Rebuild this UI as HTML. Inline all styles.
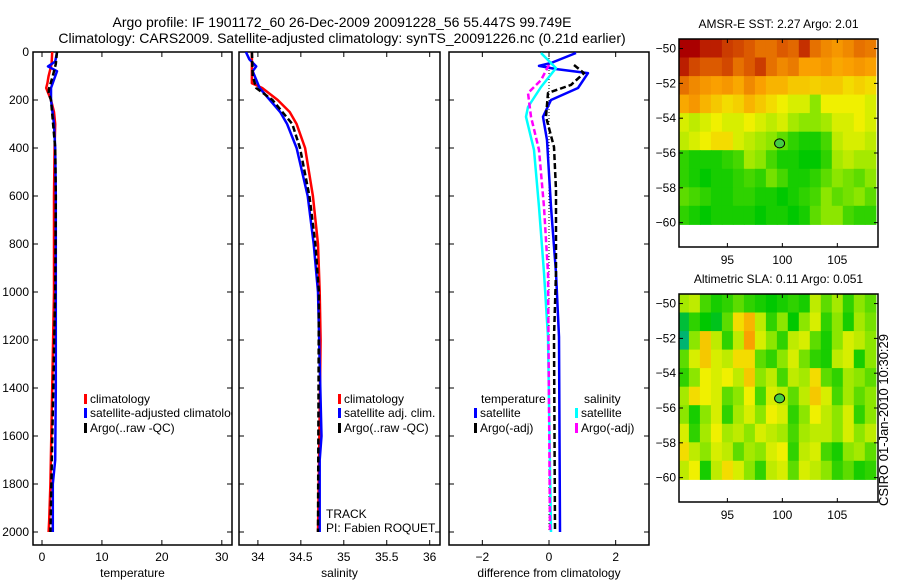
<!DOCTYPE html>
<html><head><meta charset="utf-8"><style>
html,body{margin:0;padding:0;background:#fff;}
svg{display:block;font-family:"Liberation Sans",sans-serif;}
</style></head><body>
<svg id="fig" width="900" height="580" viewBox="0 0 900 580">
<text x="342" y="27" font-size="14" text-anchor="middle">Argo profile: IF 1901172_60 26-Dec-2009 20091228_56 55.447S 99.749E</text>
<text x="342" y="43" font-size="14" text-anchor="middle">Climatology: CARS2009. Satellite-adjusted climatology: synTS_20091226.nc (0.21d earlier)</text>
<text x="888" y="420" font-size="13" text-anchor="middle" transform="rotate(-90 888 420)">CSIRO 01-Jan-2010 10:30:29</text>
<g id="plots"></g>
</svg>
<script>
// ---------- profile data ----------
const depthTicks = [0,200,400,600,800,1000,1200,1400,1600,1800,2000];
const tempTicks = [0,10,20,30];
const salTicks = [34,34.5,35,35.5,36];
const diffTicks = [-2,0,2];

const tClimDepth = [0,50,100,130,150,200,250,300,400,600,800,1000,1400,1800,1950,2000];
const tClimVal   = [1.7,1.6,1.1,0.9,0.7,1.5,2.0,2.2,2.1,2.0,2.0,2.0,1.7,1.4,1.2,1.1];
const tSatDepth = [0,40,60,80,150,200,300,400,600,1000,1400,1700,1800,2000];
const tSatVal   = [2.5,2.2,1.0,2.5,1.5,1.5,2.0,2.2,2.3,2.3,2.3,2.2,1.8,1.8];
const tArgoDepth = [0,50,100,150,170,200,400,600,1000,1500,2000];
const tArgoVal   = [2.5,2.3,1.8,1.2,1.1,1.5,2.2,2.3,2.2,1.8,1.4];

const sClimDepth = [0,130,150,200,250,300,400,600,800,1000,1200,1500,2000];
const sClimVal   = [33.93,33.93,34.05,34.23,34.37,34.45,34.55,34.64,34.70,34.72,34.73,34.72,34.70];
const sSatDepth = [0,30,60,80,150,200,250,300,400,600,800,1000,1300,1600,1700,2000];
const sSatVal   = [33.86,33.90,33.98,33.94,34.02,34.14,34.26,34.34,34.45,34.58,34.65,34.70,34.72,34.74,34.72,34.72];
const sArgoDepth = [0,100,150,200,300,400,600,800,1000,2000];
const sArgoVal   = [33.93,33.94,33.98,34.17,34.40,34.49,34.60,34.67,34.71,34.70];

const dTSatDepth = [4,46,58,71,88,150,200,270,367,646,920,1187,2000];
const dTSatVal   = [0.81,0.06,-0.3,0.2,1.17,0.87,0.06,-0.18,-0.06,0.06,0.21,0.3,0.33];
const dTArgoDepth = [54,88,137,171,270,396,575,920,1187,2000];
const dTArgoVal   = [0.75,1.05,0.66,-0.03,-0.09,0.15,0.21,0.21,0.15,0.18];
const dSSatDepth = [4,67,146,229,270,408,646,920,1187,2000];
const dSSatVal   = [-0.24,0.21,-0.24,-0.63,-0.69,-0.45,-0.3,-0.15,-0.03,0.06];
const dSArgoDepth = [54,117,171,270,408,646,920,2000];
const dSArgoVal   = [0,-0.24,-0.63,-0.54,-0.3,-0.15,-0.03,0.03];

// ---------- map data (10 rows spanning -49.45..-60.1, 18 cols from 91 to 108) ----------
const mapLonTicks = [95,100,105];
const mapLatTicks = [-50,-52,-54,-56,-58,-60];
const sstGrid = [
 [1.0,1.0,0.95,0.95,0.9,0.88,0.85,0.8,0.8,0.85,0.82,0.92,0.8,0.75,0.72,0.75,0.8,0.78],
 [0.95,0.88,0.85,0.85,0.88,0.8,0.85,0.9,0.8,0.75,0.78,0.7,0.7,0.72,0.68,0.7,0.72,0.7],
 [0.8,0.75,0.72,0.7,0.72,0.68,0.75,0.7,0.65,0.65,0.6,0.6,0.58,0.6,0.6,0.55,0.58,0.55],
 [0.68,0.72,0.65,0.6,0.55,0.58,0.65,0.6,0.55,0.5,0.45,0.45,0.3,0.5,0.5,0.5,0.5,0.45],
 [0.45,0.4,0.45,0.5,0.45,0.45,0.5,0.45,0.4,0.45,0.35,0.3,0.3,0.35,0.45,0.45,0.5,0.45],
 [0.4,0.45,0.5,0.55,0.55,0.45,0.4,0.35,0.3,0.2,0.1,0.05,0.05,0.15,0.4,0.45,0.45,0.4],
 [0.1,0.05,0.05,0.05,0.1,0.15,0.35,0.3,0.15,0.05,0.05,0.0,0.0,0.1,0.35,0.4,0.35,0.35],
 [0.1,0.05,0.0,0.05,0.05,0.1,0.15,0.1,0.25,0.15,0.05,0.05,0.1,0.2,0.3,0.25,0.2,0.3],
 [0.2,0.15,0.1,0.05,0.05,0.1,0.1,0.05,0.05,0.0,0.05,0.1,0.15,0.3,0.2,0.25,0.3,0.2],
 [0.1,0.05,0.0,0.05,0.05,0.05,0.05,0.0,0.05,0.05,0.0,0.05,0.2,0.3,0.3,0.15,0.1,0.1]
];
const slaGrid = [
 [0.35,0.4,0.15,0.05,0.1,0.2,0.1,0.05,0.0,0.05,0.1,0.05,0.4,0.2,0.35,0.1,0.3,0.2],
 [-0.1,0.1,0.0,-0.05,0.2,0.55,0.65,0.4,0.1,0.3,0.0,0.3,0.45,0.1,0.3,0.05,0.35,0.25],
 [-0.2,0.3,0.6,0.4,0.1,0.4,0.7,0.45,0.3,0.1,0.4,0.45,0.2,0.05,0.3,0.45,0.4,0.3],
 [0.2,0.45,0.6,0.45,0.4,0.55,0.55,0.2,0.1,0.3,0.45,0.25,0.1,0.05,0.4,0.45,0.05,0.3],
 [0.1,0.3,0.5,0.45,0.5,0.4,0.6,0.3,0.4,0.15,0.4,0.35,0.55,0.2,0.1,0.35,0.3,0.2],
 [0.35,0.55,0.5,0.45,0.2,0.3,0.5,0.15,0.45,0.4,0.2,0.4,0.6,0.45,0.15,0.35,0.2,0.3],
 [0.3,0.05,0.3,0.45,0.1,0.35,0.45,0.3,0.5,0.45,0.1,0.3,0.5,0.4,0.3,0.45,0.1,0.3],
 [0.45,0.1,0.35,0.5,0.35,0.4,0.3,0.45,0.4,0.35,0.15,0.35,0.4,0.4,0.3,0.45,0.3,0.4],
 [0.55,0.4,0.3,0.45,0.4,0.2,0.35,0.3,0.45,0.5,0.1,0.4,0.45,0.15,0.05,0.3,0.35,0.2],
 [0.4,0.5,0.05,0.4,0.55,0.45,0.3,0.1,0.4,0.45,0.2,0.45,0.4,0.3,0.1,0.2,0.05,0.1]
];
</script>
<script>
const NS='http://www.w3.org/2000/svg';
const root=document.getElementById('plots');
function mk(tag,attrs,parent){const e=document.createElementNS(NS,tag);for(const k in attrs)e.setAttribute(k,attrs[k]);(parent||root).appendChild(e);return e;}
function txt(x,y,s,size,anchor,parent){const t=mk('text',{x:x,y:y,'font-size':size,'text-anchor':anchor||'middle'},parent);t.textContent=s;return t;}

const yTop=52, pxPerM=0.24, yBot=545;
const Y=d=>yTop+d*pxPerM;

function panel(name,x0,x1,lo,hi,ticks,xlabel,showY){
  const X=v=>x0+(v-lo)/(hi-lo)*(x1-x0);
  const g=mk('g',{});
  
  
  const clip=mk('clipPath',{id:'clip-'+name},g);
  mk('rect',{x:x0,y:yTop,width:x1-x0,height:yBot-yTop},clip);
  const fr=mk('rect',{x:x0,y:yTop,width:x1-x0,height:yBot-yTop,fill:'none',stroke:'#000','stroke-width':1.5},g);
  
  
  ticks.forEach(v=>{
    const x=X(v);
    mk('line',{x1:x,x2:x,y1:yBot,y2:yBot-5,stroke:'#000'},g);
    mk('line',{x1:x,x2:x,y1:yTop,y2:yTop+5,stroke:'#000'},g);
    const t=txt(x,561,String(v).replace('-','\u2212'),12,'middle',g);
    
    
  });
  depthTicks.forEach(d=>{
    mk('line',{x1:x0,x2:x0+5,y1:Y(d),y2:Y(d),stroke:'#000'},g);
    mk('line',{x1:x1,x2:x1-5,y1:Y(d),y2:Y(d),stroke:'#000'},g);
    if(showY){const t=txt(x0-4,Y(d)+4,String(d),12,'end',g);
      
      }
  });
  const xl=txt((x0+x1)/2,577,xlabel,12,'middle',g);
  
  
  const lines=mk('g',{'clip-path':'url(#clip-'+name+')'},g);
  return {X,g,lines};
}
function series(p,name,depths,vals,color,width,dash){
  const pts=depths.map((d,i)=>p.X(vals[i]).toFixed(1)+','+Y(d).toFixed(1)).join(' ');
  const a={points:pts,fill:'none',stroke:color,'stroke-width':width,'stroke-linejoin':'round'};
  if(dash)a['stroke-dasharray']=dash;
  const l=mk('polyline',a,p.lines);
  
  
}
function legend(p,x,y,color,label,clipIt){
  const par=clipIt?p.lines:p.g;
  const r=mk('rect',{x:x,y:y-9,width:3,height:10,fill:color},par);
  
  
  const t=txt(x+6,y,label,12,'start',par);
  
  
}

// Temperature
const p1=panel('temperature-panel',33,232,-1.5,31.7,tempTicks,'temperature',true);
series(p1,'temp-climatology-line',tClimDepth,tClimVal,'#f00',2.5);
series(p1,'temp-satellite-line',tSatDepth,tSatVal,'#00f',2.5);
series(p1,'temp-argo-line',tArgoDepth,tArgoVal,'#000',2.5,'6,3');
legend(p1,84,403,'#f00','climatology',true);
legend(p1,84,417,'#00f','satellite-adjusted climatology',true);
legend(p1,84,432,'#000','Argo(..raw -QC)',true);

// Salinity
const p2=panel('salinity-panel',239,440,33.78,36.12,salTicks,'salinity',false);
series(p2,'sal-climatology-line',sClimDepth,sClimVal,'#f00',2.5);
series(p2,'sal-satellite-line',sSatDepth,sSatVal,'#00f',2.5);
series(p2,'sal-argo-line',sArgoDepth,sArgoVal,'#000',2.5,'6,3');
legend(p2,338,403,'#f00','climatology');
legend(p2,338,417,'#00f','satellite adj. clim.');
legend(p2,338,432,'#000','Argo(..raw -QC)');
const tr=txt(326,518,'TRACK',12,'start',p2.g);


const pi=txt(326,532,'PI: Fabien ROQUET',12,'start',p2.g);



// Difference
const p3=panel('difference-panel',449,649,-3,3,diffTicks,'difference from climatology',false);
const zl=mk('line',{x1:p3.X(0),x2:p3.X(0),y1:yTop,y2:Y(2000),stroke:'#000','stroke-dasharray':'1,2'},p3.lines);


series(p3,'diff-temp-satellite-line',dTSatDepth,dTSatVal,'#00f',2.5);
series(p3,'diff-temp-argo-line',dTArgoDepth,dTArgoVal,'#000',2.5,'6,3');
series(p3,'diff-sal-satellite-line',dSSatDepth,dSSatVal,'#0ff',2.5);
series(p3,'diff-sal-argo-line',dSArgoDepth,dSArgoVal,'#f0f',2.5,'6,3');
const lt=txt(481,403,'temperature',12,'start',p3.g);


const ls=txt(584,403,'salinity',12,'start',p3.g);


legend(p3,474,417,'#00f','satellite');
legend(p3,474,432,'#000','Argo(-adj)');
legend(p3,575,417,'#0ff','satellite');
legend(p3,575,432,'#f0f','Argo(-adj)');

// ---------- maps ----------
function cmap(v){
  const stops=[[-0.3,[0,170,170]],[0,[0,200,0]],[0.3,[140,230,0]],[0.5,[240,240,0]],[0.7,[250,160,0]],[0.85,[220,90,0]],[1,[170,0,0]]];
  if(v<=stops[0][0])return 'rgb('+stops[0][1]+')';
  for(let i=1;i<stops.length;i++){if(v<=stops[i][0]){const a=stops[i-1],b=stops[i];const t=(v-a[0])/(b[0]-a[0]);
    return 'rgb('+a[1].map((c,k)=>Math.round(c+(b[1][k]-c)*t)).join(',')+')';}}
  return 'rgb(170,0,0)';
}
function mapPanel(name,title,grid,top){
  const x0=679,x1=878,y0=top,y1=top+208;
  const lonLo=90.6,lonHi=108.7,latHi=-49.45,latLo=-61.4,dataBottom=-60.1;
  const MX=l=>x0+(l-lonLo)/(lonHi-lonLo)*(x1-x0);
  const MY=l=>y0+(latHi-l)/(latHi-latLo)*(y1-y0);
  const rowSpan=(latHi-dataBottom)/grid.length;
  const g=mk('g',{});
  
  
  const ti=txt((x0+x1)/2,top-11,title,12,'middle',g);
  
  
  const cg=mk('g',{},g);
  grid.forEach((row,r)=>row.forEach((v,c)=>{
    const lonA=Math.max(lonLo,91+c-0.5),lonB=Math.min(lonHi,91+c+0.5);
    const latA=latHi-r*rowSpan,latB=latA-rowSpan;
    const cell=mk('rect',{x:MX(lonA).toFixed(1),y:MY(latA).toFixed(1),width:(MX(lonB)-MX(lonA)+0.6).toFixed(1),height:(MY(latB)-MY(latA)+0.6).toFixed(1),fill:cmap(v)},cg);
    
    
  }));
  const fr=mk('rect',{x:x0,y:y0,width:x1-x0,height:y1-y0,fill:'none',stroke:'#000','stroke-width':1.5},g);
  
  
  mapLonTicks.forEach(l=>{
    mk('line',{x1:MX(l),x2:MX(l),y1:y1,y2:y1-4,stroke:'#000'},g);
    mk('line',{x1:MX(l),x2:MX(l),y1:y0,y2:y0+4,stroke:'#000'},g);
    const t=txt(MX(l),y1+17,String(l),12,'middle',g);
    
    
  });
  mapLatTicks.forEach(l=>{
    mk('line',{x1:x0,x2:x0+4,y1:MY(l),y2:MY(l),stroke:'#000'},g);
    mk('line',{x1:x1,x2:x1-4,y1:MY(l),y2:MY(l),stroke:'#000'},g);
    const t=txt(x0-3,MY(l)+4,String(l).replace('-','\u2212'),12,'end',g);
    
    
  });
  const m=mk('ellipse',{cx:MX(99.749),cy:MY(-55.447),rx:5,ry:4.5,fill:'#4c4',stroke:'#000'},g);
  
  
}
mapPanel('sst-map','AMSR-E SST: 2.27 Argo: 2.01',sstGrid,39);
mapPanel('sla-map','Altimetric SLA: 0.11 Argo: 0.051',slaGrid,294);
</script>
</body></html>
